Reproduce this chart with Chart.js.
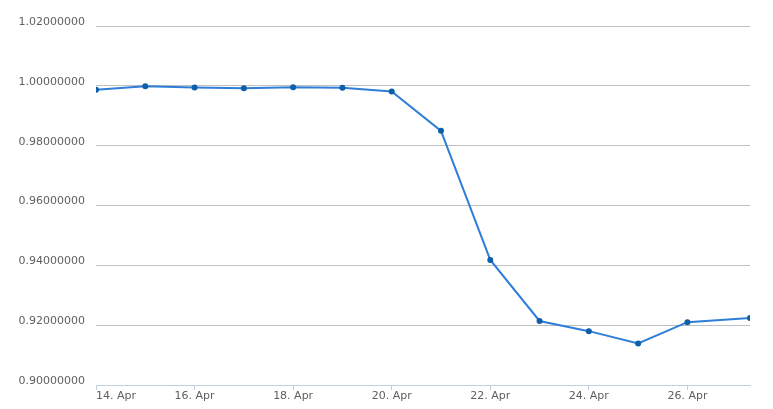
<!DOCTYPE html>
<html>
<head>
<meta charset="utf-8">
<script src="https://cdn.jsdelivr.net/npm/chart.js@4"></script>
<style>
html,body{margin:0;padding:0;background:#fff;}
#wrap{width:773px;height:409px;position:relative;}
</style>
</head>
<body>
<div id="wrap"><canvas id="c" width="773" height="409"></canvas></div>
<script>
// Day of April for each observation (last one is later in the day)
const days = [14, 15, 16, 17, 18, 19, 20, 21, 22, 23, 24, 25, 26, 27.27];
const rates = [0.9987, 0.9999, 0.99944, 0.9992, 0.9995, 0.9994, 0.9981, 0.98495, 0.9418, 0.9214, 0.9180, 0.9139, 0.9210, 0.9224];
const xTickDays = [14, 16, 18, 20, 22, 24, 26];
const monthLabel = 'Apr';
const yTicks = [0.90, 0.92, 0.94, 0.96, 0.98, 1.00, 1.02];

const points = days.map((d, i) => ({x: d, y: rates[i]}));
const xMax = days[days.length - 1];

new Chart(document.getElementById('c'), {
  type: 'line',
  data: {
    datasets: [{
      data: points,
      borderColor: '#2f7ed8',
      borderWidth: 2,
      pointRadius: 3,
      pointHoverRadius: 3,
      pointBackgroundColor: '#0e5fa9',
      pointBorderColor: '#0e5fa9',
      pointBorderWidth: 0,
      tension: 0,
      fill: false
    }]
  },
  options: {
    responsive: false,
    animation: false,
    layout: {padding: {left: 0, right: 23, top: 26, bottom: 0}},
    plugins: {legend: {display: false}, tooltip: {enabled: false}},
    scales: {
      x: {
        type: 'linear',
        min: days[0],
        max: xMax,
        afterBuildTicks: s => {
          s.ticks = xTickDays.map(v => ({value: v})).concat([{value: xMax}]);
        },
        afterFit: s => { s.height = 24; },
        border: {display: true, color: '#c0d0e0', width: 1},
        grid: {
          drawOnChartArea: false,
          drawTicks: true,
          tickLength: 5,
          tickColor: ctx => (ctx.tick && ctx.tick.value === xMax) ? 'rgba(0,0,0,0)' : '#c0d0e0',
          color: '#c0d0e0'
        },
        ticks: {
          autoSkip: false,
          maxRotation: 0,
          align: 'inner',
          padding: 0,
          color: '#606060',
          font: {family: 'DejaVu Sans', size: 11},
          callback: v => xTickDays.includes(v) ? (v + '. ' + monthLabel) : ''
        }
      },
      y: {
        min: yTicks[0],
        max: yTicks[yTicks.length - 1],
        afterBuildTicks: s => { s.ticks = yTicks.map(v => ({value: v})); },
        afterFit: s => { s.width = 96; },
        border: {display: false},
        grid: {color: '#c0c0c0', lineWidth: 1, drawTicks: false},
        ticks: {
          padding: 11,
          labelOffset: -4,
          color: '#606060',
          font: {family: 'DejaVu Sans', size: 11},
          callback: v => v.toFixed(8)
        }
      }
    }
  }
});
</script>
</body>
</html>
